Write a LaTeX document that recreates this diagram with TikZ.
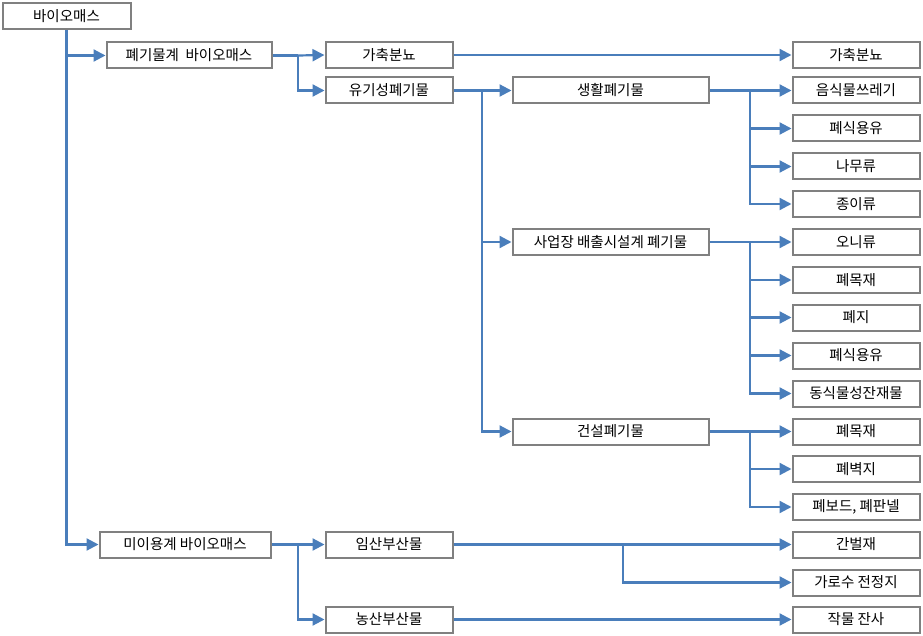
\documentclass[tikz,border=0pt]{standalone}
\usepackage{fontspec}
\setmainfont{Noto Sans CJK KR}
\usetikzlibrary{arrows.meta}
\definecolor{boxgray}{RGB}{128,128,128}
\definecolor{lineblue}{RGB}{74,126,187}
\tikzset{
  box/.style={draw=boxgray, line width=2pt, fill=white, inner sep=0pt, minimum height=26pt, anchor=center, font=\fontsize{14.5}{16}\selectfont},
  rbox/.style={box, minimum width=127pt},
  conn/.style={draw=lineblue, line width=2.2pt},
  arr/.style={conn, -{Triangle[length=12pt,width=12pt]}}
}
\begin{document}
\begin{tikzpicture}[x=1pt,y=-1pt]
\useasboundingbox (0,0) rectangle (923,636);
% left / middle boxes
\node[box, minimum width=128pt] (bio) at (66.5,16) {바이오매스};
\node[box, minimum width=165pt] (pg) at (189,55.5) {폐기물계\ \ 바이오매스};
\node[box, minimum width=171pt] (mi) at (185,544.5) {미이용계 바이오매스};
\node[box, minimum width=127pt] (gaL) at (389,55) {가축분뇨};
\node[box, minimum width=127pt] (yu) at (389,90.5) {유기성폐기물};
\node[box, minimum width=127pt] (im) at (389,544.5) {임산부산물};
\node[box, minimum width=127pt] (nong) at (389,619.5) {농산부산물};
\node[box, minimum width=196pt] (sh) at (610.5,90.5) {생활폐기물};
\node[box, minimum width=196pt] (sa) at (610.5,242) {사업장 배출시설계 폐기물};
\node[box, minimum width=196pt] (gun) at (610.5,431.5) {건설폐기물};
% right column
\node[rbox] (gaR) at (856,55) {가축분뇨};
\node[rbox] (r1) at (856,90.5) {음식물쓰레기};
\node[rbox] (r2) at (856,128.5) {폐식용유};
\node[rbox] (r3) at (856,166.5) {나무류};
\node[rbox] (r4) at (856,204) {종이류};
\node[rbox] (r5) at (856,242) {오니류};
\node[rbox] (r6) at (856,280) {폐목재};
\node[rbox] (r7) at (856,317.5) {폐지};
\node[rbox] (r8) at (856,355.5) {폐식용유};
\node[rbox] (r9) at (856,393.5) {동식물성잔재물};
\node[rbox] (r10) at (856,431.5) {폐목재};
\node[rbox] (r11) at (856,469) {폐벽지};
\node[rbox] (r12) at (856,507) {폐보드, 폐판넬};
\node[rbox] (r13) at (856,544.5) {간벌재};
\node[rbox] (r14) at (856,582.5) {가로수 전정지};
\node[rbox] (r15) at (856,619.5) {작물 잔사};
% junctions
\coordinate (j1) at (298,55.5);
\coordinate (j2) at (482,90.5);
\coordinate (j3) at (750,90.5);
\coordinate (j4) at (750,242);
\coordinate (j5) at (750,431.5);
\coordinate (j6) at (298,544.5);
\coordinate (j7) at (623,544.5);
% connectors
\draw[arr] (bio.south) |- (pg.west);
\draw[arr] (bio.south) |- (mi.west);
\draw[conn] (pg.east) -- (j1);
\draw[arr] (j1) -- (gaL.west);
\draw[arr] (j1) |- (yu.west);
\draw[arr] (gaL.east) -- (gaR.west);
\draw[conn] (yu.east) -- (j2);
\draw[arr] (j2) -- (sh.west);
\draw[arr] (j2) |- (sa.west);
\draw[arr] (j2) |- (gun.west);
\draw[conn] (sh.east) -- (j3);
\draw[arr] (j3) -- (r1.west);
\draw[arr] (j3) |- (r2.west);
\draw[arr] (j3) |- (r3.west);
\draw[arr] (j3) |- (r4.west);
\draw[conn] (sa.east) -- (j4);
\draw[arr] (j4) -- (r5.west);
\draw[arr] (j4) |- (r6.west);
\draw[arr] (j4) |- (r7.west);
\draw[arr] (j4) |- (r8.west);
\draw[arr] (j4) |- (r9.west);
\draw[conn] (gun.east) -- (j5);
\draw[arr] (j5) -- (r10.west);
\draw[arr] (j5) |- (r11.west);
\draw[arr] (j5) |- (r12.west);
\draw[conn] (mi.east) -- (j6);
\draw[arr] (j6) -- (im.west);
\draw[arr] (j6) |- (nong.west);
\draw[conn] (im.east) -- (j7);
\draw[arr] (j7) -- (r13.west);
\draw[arr] (j7) |- (r14.west);
\draw[arr] (nong.east) -- (r15.west);
\end{tikzpicture}
\end{document}
